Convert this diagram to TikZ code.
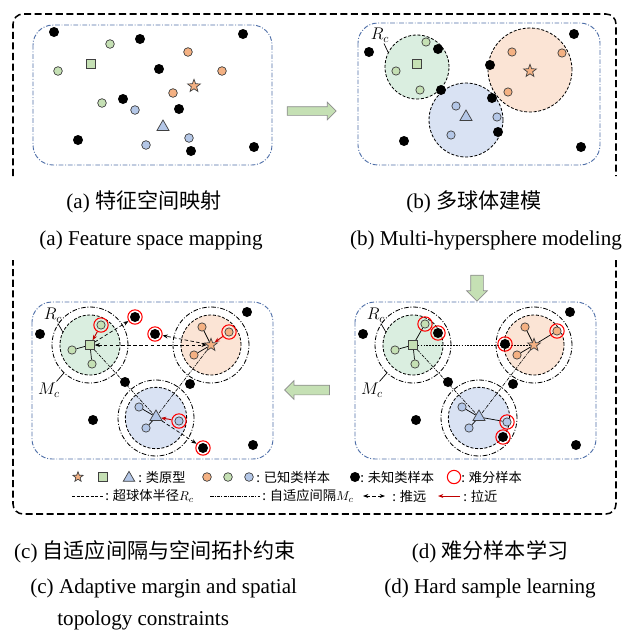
\documentclass[tikz,border=0pt]{standalone}
\usepackage{fontspec}
\setmainfont{Liberation Serif}
\newfontfamily\cjk{Noto Sans CJK SC}
\usetikzlibrary{arrows.meta, shapes.geometric, shapes.arrows, backgrounds}
\definecolor{cframe}{HTML}{4F6FA8}
\definecolor{gball}{HTML}{DAEEE0}
\definecolor{oball}{HTML}{FBE4D5}
\definecolor{bball}{HTML}{D9E2F3}
\definecolor{gsamp}{HTML}{C5E0B4}
\definecolor{osamp}{HTML}{F4B183}
\definecolor{bsamp}{HTML}{B4C7E7}
\definecolor{cedge}{HTML}{404040}
\definecolor{cring}{HTML}{FF0000}
\definecolor{cpull}{HTML}{C00000}
\definecolor{carrow}{HTML}{8C8C8C}
\tikzset{
  every picture/.style={line width=0.6pt},
  bigframe/.style={draw=black, line width=1.3pt, dash pattern=on 6pt off 3pt, rounded corners=3mm},
  fspace/.style={draw=cframe, line width=0.8pt, dash pattern=on 4pt off 1.5pt on 0.8pt off 1.5pt, rounded corners=6mm},
  ball/.style={circle, draw=black, fill=#1, line width=0.7pt, dash pattern=on 2.5pt off 1.5pt, inner sep=0},
  margin/.style={circle, draw=black, line width=0.7pt, dash pattern=on 4pt off 1.5pt on 0.8pt off 1.5pt, inner sep=0, minimum size=22.8mm},
  samp/.style={circle, draw=cedge, fill=#1, minimum size=2.5mm, inner sep=0},
  unk/.style={circle, fill=black, minimum size=3mm, inner sep=0},
  hard/.style={circle, draw=cring, line width=0.9pt, minimum size=4.3mm, inner sep=0},
  pstar/.style={star, star points=5, star point ratio=2.4, draw=cedge, fill=osamp, minimum size=4mm, inner sep=0},
  psq/.style={rectangle, draw=cedge, fill=gsamp, minimum size=2.6mm, inner sep=0},
  ptri/.style={regular polygon, regular polygon sides=3, draw=cedge, fill=bsamp, minimum size=4.2mm, inner sep=0},
  link/.style={draw=black, line width=0.6pt},
  push/.style={densely dashed, line width=0.6pt, >={Stealth[length=1.6mm, width=1.2mm]}},
  pull/.style={draw=cpull, line width=0.8pt, -{Stealth[length=1.6mm, width=1.2mm]}},
  topo/.style={line width=0.5pt, dash pattern=on 3pt off 1pt on 0.8pt off 1pt},
  bigarrow/.style={single arrow, draw=carrow, fill=gsamp, line width=0.6pt, text height=0pt, text depth=0pt},
  lgtext/.style={font=\cjk\fontsize{11.3}{13}\selectfont, anchor=west, inner sep=0},
  capcn/.style={font=\fontsize{18}{20}\selectfont, inner sep=0},
  capen/.style={font=\fontsize{18}{20}\selectfont, inner sep=0},
  lab/.style={font=\fontsize{14}{16}\selectfont, inner sep=1pt},
}
\begin{document}
\begin{tikzpicture}[x=0.3mm, y=-0.3mm]
  \useasboundingbox (0,0) rectangle (627,635);
  % outer border, open at the caption rows
  \draw[bigframe] (13,176) -- (13,14) -- (616,14) -- (616,176);
  \draw[bigframe] (616,260) -- (616,514) -- (13,514) -- (13,260);

  % (a) feature space
  \draw[fspace] (33,25) rectangle (272,165);
  \foreach \x/\y [count=\i] in {54/32, 140/39, 243/34, 159/69, 123/99, 179/109, 78/140, 191/151, 254/147}
    \node[unk] (au\i) at (\x,\y) {};
  \foreach \x/\y [count=\i] in {110/44, 58/71, 102/103}
    \node[samp=gsamp, minimum size=2.6mm] (ag\i) at (\x,\y) {};
  \foreach \x/\y [count=\i] in {188/52, 222/71, 173/93}
    \node[samp=osamp, minimum size=2.6mm] (ao\i) at (\x,\y) {};
  \foreach \x/\y [count=\i] in {135/110, 189/138, 146/145}
    \node[samp=bsamp, minimum size=2.6mm] (ab\i) at (\x,\y) {};
  \node[psq] (aG) at (91,64) {};
  \node[pstar] (aO) at (194,86) {};
  \node[ptri] (aB) at (163,127) {};

  \node[bigarrow, minimum height=14.7mm, inner sep=1.2mm, single arrow head extend=1.35mm] (arAB) at (309.5,111) {};

  % (b) hyperspheres
  \draw[fspace] (358,23) rectangle (600,165);
  \node[ball=gball, minimum size=19.2mm] (bGb) at (417,67) {};
  \node[ball=oball, minimum size=25.2mm] (bOb) at (530,70) {};
  \node[ball=bball, minimum size=22.2mm] (bBb) at (466,120) {};
  \foreach \x/\y [count=\i] in {369/52, 438/49, 574/34, 490/65, 441/90, 492/98, 498/132, 404/141, 581/147}
    \node[unk] (bu\i) at (\x,\y) {};
  \foreach \x/\y [count=\i] in {426/42, 396/71, 420/90}
    \node[samp=gsamp] (bg\i) at (\x,\y) {};
  \foreach \x/\y [count=\i] in {512/52, 562/53, 508/92}
    \node[samp=osamp] (bo\i) at (\x,\y) {};
  \foreach \x/\y [count=\i] in {456/106, 497/117, 451/135}
    \node[samp=bsamp] (bb\i) at (\x,\y) {};
  \node[psq] (bG) at (417,64) {};
  \node[pstar] (bO) at (530,71) {};
  \node[ptri] (bB) at (466,117) {};
  \node[lab] (bRc) at (380,35) {$R_c$};
  \draw (bRc) -- (bGb.153);

  \node[bigarrow, minimum height=7.8mm, inner sep=1.8mm, single arrow head extend=1.2mm, rotate=-90] (arBD) at (477,285) {};
  \node[bigarrow, minimum height=13.5mm, inner sep=1.35mm, single arrow head extend=1.35mm, rotate=180] (arDC) at (309.5,390) {};

  % (c) and (d) share the layout
  \foreach \p/\s in {c/0, d/323} {
    \begin{scope}[on background layer]
      \draw[fspace] ({\s+32},302) rectangle ({\s+273},459);
      \node[margin] (\p Gm) at ({\s+90},345) {};
      \node[margin] (\p Om) at ({\s+211},345) {};
      \node[margin] (\p Bm) at ({\s+156},418) {};
      \node[ball=gball, minimum size=18mm] (\p Gb) at ({\s+90},345) {};
      \node[ball=oball, minimum size=18mm] (\p Ob) at ({\s+211},345) {};
      \node[ball=bball, minimum size=18.4mm] (\p Bb) at ({\s+156},418) {};
    \end{scope}
    \foreach \x/\y [count=\i] in {40/334, 247/312, 125/382, 190/384, 93/420, 253/445}
      \node[unk] (\p u\i) at ({\s+\x},\y) {};
    \node[samp=gsamp] (\p g1) at ({\s+72},350) {};
    \node[samp=gsamp] (\p g2) at ({\s+92},364) {};
    \node[samp=osamp] (\p o1) at ({\s+202},327) {};
    \node[samp=osamp] (\p o2) at ({\s+194},355) {};
    \node[samp=bsamp] (\p b1) at ({\s+139},407) {};
    \node[samp=bsamp] (\p b2) at ({\s+146},428) {};
    \node[psq] (\p G) at ({\s+90},345) {};
    \node[pstar] (\p O) at ({\s+211},345) {};
    \node[ptri] (\p B) at ({\s+156},417) {};
    \node[lab] (\p Rc) at ({\s+53},315) {$R_c$};
    \node[lab] (\p Mc) at ({\s+49},390) {$M_c$};
    \draw (\p Rc) -- (\p Gb.154);
    \draw (\p Mc) -- (\p Gm.227);
  }

  % (c) margins and topology
  \node[samp=gsamp] (cg3) at (101,325) {};
  \node[samp=osamp] (co3) at (229,332) {};
  \node[samp=bsamp] (cb3) at (179,421) {};
  \node[unk] (cu7) at (135,317) {};
  \node[unk] (cu8) at (155,334) {};
  \node[unk] (cu9) at (203,448) {};
  \foreach \n in {cg3, co3, cb3, cu7, cu8, cu9}
    \node[hard] (\n r) at (\n) {};
  \begin{scope}[on background layer]
    \draw[link] (cG) -- (cg1); \draw[link] (cG) -- (cg2);
    \draw[link] (cO) -- (co1); \draw[link] (cO) -- (co2);
    \draw[link] (cB) -- (cb1); \draw[link] (cB) -- (cb2);
    \draw[topo] (cG) -- (cB); \draw[topo] (cO) -- (cB);
    \draw[push, <->] (cG) -- (cO);
    \draw[push, ->] (cG) -- (cu7r);
    \draw[push, ->] (cO) -- (cu8r);
    \draw[push, ->] (cB) -- (cu9r);
    \draw[pull] (cg3r) -- (cG);
    \draw[pull] (co3r) -- (cO);
    \draw[pull] (cb3r) -- (cB);
  \end{scope}

  % (d) hard samples
  \node[samp=gsamp] (dg3) at (425,324) {};
  \node[samp=osamp] (do3) at (557,331) {};
  \node[samp=bsamp] (db3) at (507,422) {};
  \node[unk] (du7) at (438,333) {};
  \node[unk] (du8) at (505,344) {};
  \node[unk] (du9) at (503,437) {};
  \foreach \n in {dg3, do3, db3, du7, du8, du9}
    \node[hard] (\n r) at (\n) {};
  \begin{scope}[on background layer]
    \foreach \i in {1,2,3} {
      \draw[link] (dG) -- (dg\i);
      \draw[link] (dO) -- (do\i);
      \draw[link] (dB) -- (db\i);
    }
    \draw[dash pattern=on 1.5pt off 1pt, line width=0.6pt] (dG) -- (dO);
    \draw[topo] (dG) -- (dB); \draw[topo] (dO) -- (dB);
  \end{scope}

  % legend
  \node[pstar, minimum size=3.2mm] (lgP1) at (78,477) {};
  \node[psq, minimum size=2.8mm] (lgP2) at (103,477) {};
  \node[ptri, minimum size=4mm] (lgP3) at (129,478) {};
  \node[lgtext] (lgT1) at (138,477) {: 类原型};
  \node[samp=osamp, minimum size=2.6mm] (lgK1) at (207,477) {};
  \node[samp=gsamp, minimum size=2.6mm] (lgK2) at (228,477) {};
  \node[samp=bsamp, minimum size=2.6mm] (lgK3) at (249,477) {};
  \node[lgtext] (lgT2) at (256,477) {: 已知类样本};
  \node[unk] (lgU) at (355,477) {};
  \node[lgtext] (lgT3) at (360,477) {: 未知类样本};
  \node[hard, minimum size=4mm] (lgH) at (454,477) {};
  \node[lgtext] (lgT4) at (461,477) {: 难分样本};
  \coordinate (lgA1) at (72,496); \coordinate (lgA2) at (103,496);
  \draw[dash pattern=on 2.5pt off 1.5pt] (lgA1) -- (lgA2);
  \node[lgtext] (lgT5) at (105,496) {: 超球体半径$R_c$};
  \coordinate (lgB1) at (210,496); \coordinate (lgB2) at (260,496);
  \draw[topo, line width=0.6pt] (lgB1) -- (lgB2);
  \node[lgtext] (lgT6) at (262,496) {: 自适应间隔$M_c$};
  \coordinate (lgC1) at (363,496); \coordinate (lgC2) at (385,496);
  \draw[push, <->] (lgC1) -- (lgC2);
  \node[lgtext] (lgT7) at (392,496) {: 推远};
  \coordinate (lgD1) at (438,496); \coordinate (lgD2) at (460,496);
  \draw[pull] (lgD2) -- (lgD1);
  \node[lgtext] (lgT8) at (463,496) {: 拉近};

  % captions
  \node[capcn] (capA) at (144,202) {(a) {\cjk 特征空间映射}};
  \node[capen] (capAe) at (151,240) {(a) Feature space mapping};
  \node[capcn] (capB) at (474,202) {(b) {\cjk 多球体建模}};
  \node[capen] (capBe) at (486,240) {(b) Multi-hypersphere modeling};
  \node[capcn] (capC) at (155,552) {(c) {\cjk 自适应间隔与空间拓扑约束}};
  \node[capen, anchor=west] (capCe) at (30,588) {(c) Adaptive margin and spatial};
  \node[capen, anchor=west] (capCf) at (57,620) {topology constraints};
  \node[capcn] (capD) at (490,552) {(d) {\cjk 难分样本学习}};
  \node[capen] (capDe) at (490,588) {(d) Hard sample learning};
\end{tikzpicture}
\end{document}
